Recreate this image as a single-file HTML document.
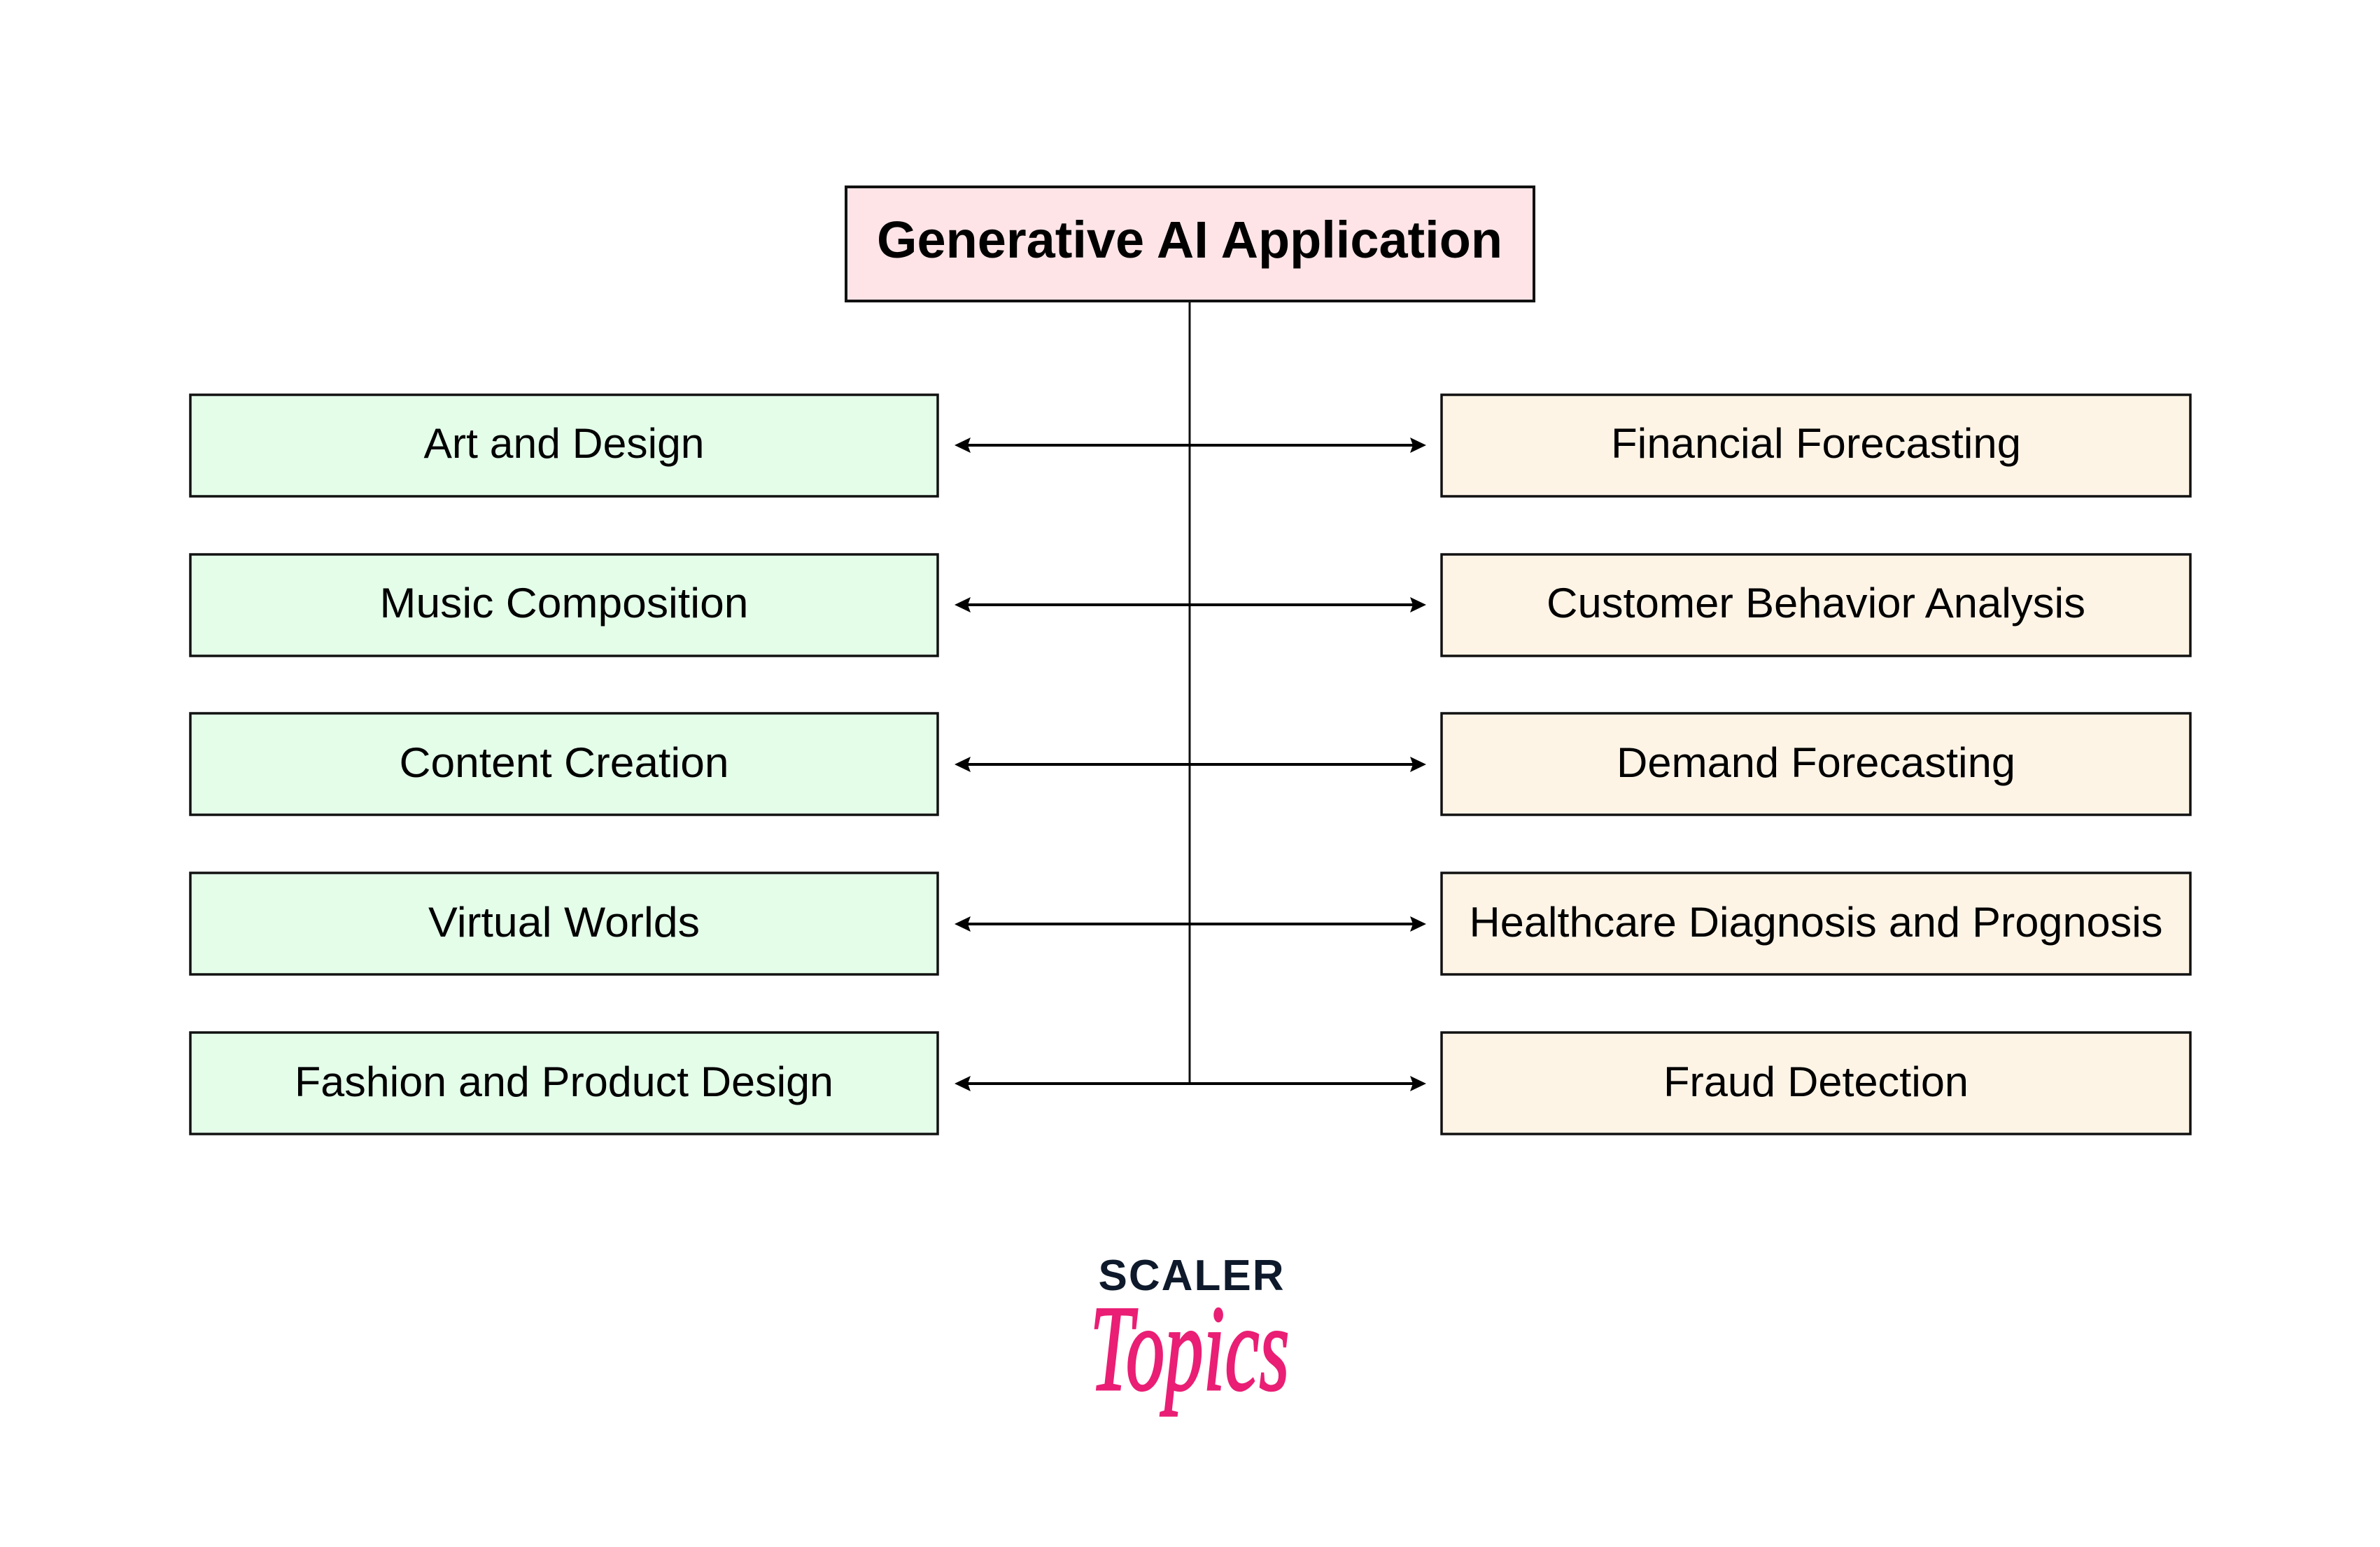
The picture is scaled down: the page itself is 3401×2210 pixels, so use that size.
<!DOCTYPE html>
<html><head><meta charset="utf-8"><style>
html,body{margin:0;padding:0;background:#fff;}
svg{display:block;}
</style></head><body>
<svg width="3401" height="2210" viewBox="0 0 3401 2210" xmlns="http://www.w3.org/2000/svg">
<rect x="0" y="0" width="3401" height="2210" fill="#fff"/>
<rect x="1209" y="267" width="983" height="163" fill="#fee4e7" stroke="#111" stroke-width="4"/>
<text x="1700" y="368" font-family="Liberation Sans, sans-serif" font-weight="bold" font-size="74" text-anchor="middle" textLength="894" lengthAdjust="spacingAndGlyphs" fill="#000">Generative AI Application</text>
<line x1="1700" y1="430" x2="1700" y2="1548" stroke="#111" stroke-width="3"/>
<g stroke="#111" stroke-width="3.5">
<rect x="272" y="564" width="1068" height="145" fill="#e3fde9"/>
<rect x="272" y="792" width="1068" height="145" fill="#e3fde9"/>
<rect x="272" y="1019" width="1068" height="145" fill="#e3fde9"/>
<rect x="272" y="1247" width="1068" height="145" fill="#e3fde9"/>
<rect x="272" y="1475" width="1068" height="145" fill="#e3fde9"/>
<rect x="2060" y="564" width="1070" height="145" fill="#fef4e6"/>
<rect x="2060" y="792" width="1070" height="145" fill="#fef4e6"/>
<rect x="2060" y="1019" width="1070" height="145" fill="#fef4e6"/>
<rect x="2060" y="1247" width="1070" height="145" fill="#fef4e6"/>
<rect x="2060" y="1475" width="1070" height="145" fill="#fef4e6"/>
</g>
<g stroke="#000" stroke-width="4">
<line x1="1375" y1="636" x2="2027" y2="636"/>
<line x1="1375" y1="864" x2="2027" y2="864"/>
<line x1="1375" y1="1092" x2="2027" y2="1092"/>
<line x1="1375" y1="1320" x2="2027" y2="1320"/>
<line x1="1375" y1="1548" x2="2027" y2="1548"/>
</g>
<g fill="#000">
<polygon points="1364,636 1387,625 1383,636 1387,647"/>
<polygon points="1364,864 1387,853 1383,864 1387,875"/>
<polygon points="1364,1092 1387,1081 1383,1092 1387,1103"/>
<polygon points="1364,1320 1387,1309 1383,1320 1387,1331"/>
<polygon points="1364,1548 1387,1537 1383,1548 1387,1559"/>
<polygon points="2038,636 2015,625 2019,636 2015,647"/>
<polygon points="2038,864 2015,853 2019,864 2015,875"/>
<polygon points="2038,1092 2015,1081 2019,1092 2015,1103"/>
<polygon points="2038,1320 2015,1309 2019,1320 2015,1331"/>
<polygon points="2038,1548 2015,1537 2019,1548 2015,1559"/>
</g>
<g font-family="Liberation Sans, sans-serif" font-size="60" text-anchor="middle" fill="#000">
<text x="806" y="654" textLength="401" lengthAdjust="spacingAndGlyphs">Art and Design</text>
<text x="806" y="882" textLength="527" lengthAdjust="spacingAndGlyphs">Music Composition</text>
<text x="806" y="1110" textLength="471" lengthAdjust="spacingAndGlyphs">Content Creation</text>
<text x="806" y="1338" textLength="388" lengthAdjust="spacingAndGlyphs">Virtual Worlds</text>
<text x="806" y="1566" textLength="770" lengthAdjust="spacingAndGlyphs">Fashion and Product Design</text>
<text x="2595" y="654" textLength="586" lengthAdjust="spacingAndGlyphs">Financial Forecasting</text>
<text x="2595" y="882" textLength="770" lengthAdjust="spacingAndGlyphs">Customer Behavior Analysis</text>
<text x="2595" y="1110" textLength="570" lengthAdjust="spacingAndGlyphs">Demand Forecasting</text>
<text x="2595" y="1338" textLength="991" lengthAdjust="spacingAndGlyphs">Healthcare Diagnosis and Prognosis</text>
<text x="2595" y="1566" textLength="436" lengthAdjust="spacingAndGlyphs">Fraud Detection</text>
</g>
<text x="1702" y="1843" font-family="Liberation Sans, sans-serif" font-weight="bold" font-size="62" text-anchor="middle" textLength="265" lengthAdjust="spacing" fill="#0e1a2b">SCALER</text>
<text x="1700" y="1985" font-family="Liberation Serif, serif" font-style="italic" font-size="175" text-anchor="middle" textLength="285" lengthAdjust="spacingAndGlyphs" fill="#e91e74" stroke="#e91e74" stroke-width="3">Topics</text>
</svg>
</body></html>
